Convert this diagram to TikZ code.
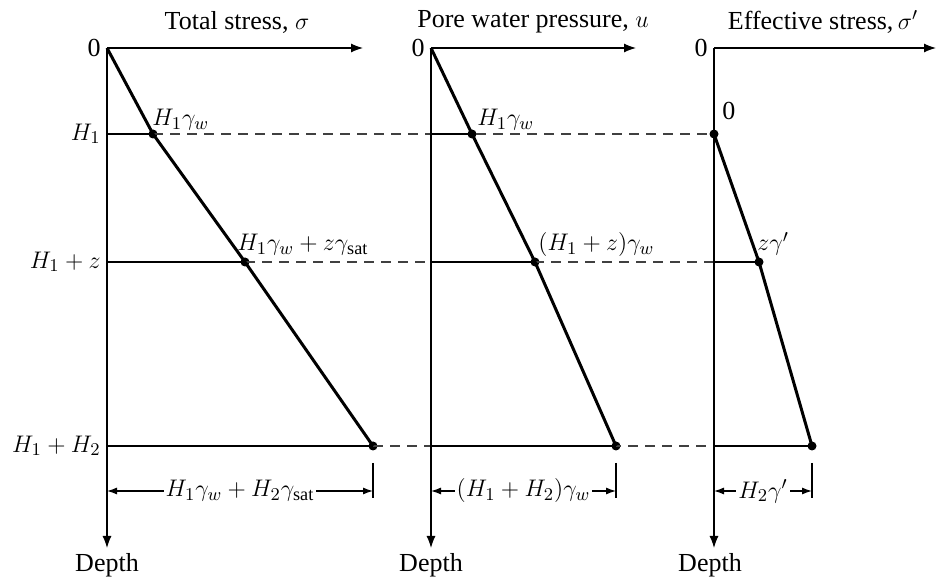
\documentclass[tikz,border=0pt]{standalone}
\usepackage{fontspec}
\setmainfont{Liberation Serif}
\usetikzlibrary{arrows.meta}
\begin{document}
\begin{tikzpicture}[x=0.5pt,y=-0.5pt,
  font=\fontsize{13}{15}\selectfont,
  axis/.style={line width=0.6pt,-{Latex[length=6pt,width=4.5pt]}},
  diag/.style={line width=1.5pt,line join=round},
  bar/.style={line width=1.3pt},
  dashline/.style={line width=0.6pt,black!75,dash pattern=on 5pt off 3.5pt},
  dot/.style={circle,fill=black,inner sep=0pt,minimum size=4.5pt},
  lab/.style={anchor=base west,inner sep=0pt},
  tick/.style={line width=0.6pt},
  dim/.style={line width=0.6pt,{Latex[length=5pt,width=3.5pt]}-{Latex[length=5pt,width=3.5pt]}},
  dimlab/.style={fill=white,inner sep=1pt}]
\useasboundingbox (0,0) rectangle (938,582);
% coordinates
\coordinate (A0) at (107,48); \coordinate (Ax) at (363,48); \coordinate (Ad) at (107,548);
\coordinate (B0) at (431,48); \coordinate (Bx) at (636,48); \coordinate (Bd) at (431,548);
\coordinate (C0) at (714,48); \coordinate (Cx) at (936,48); \coordinate (Cd) at (714,548);
\coordinate (A1a) at (107,134); \coordinate (A2a) at (107,262); \coordinate (A3a) at (107,446);
\coordinate (B1a) at (431,134); \coordinate (B2a) at (431,262); \coordinate (B3a) at (431,446);
\coordinate (C2a) at (714,262); \coordinate (C3a) at (714,446);
\node[dot] (A1) at (153,134) {}; \node[dot] (A2) at (245,262) {}; \node[dot] (A3) at (373,446) {};
\node[dot] (B1) at (472,134) {}; \node[dot] (B2) at (535,262) {}; \node[dot] (B3) at (616,446) {};
\node[dot] (C1) at (714,134) {}; \node[dot] (C2) at (759,262) {}; \node[dot] (C3) at (812,446) {};
% dashed level lines
\draw[dashline] (A1.center) -- (C1.center);
\draw[dashline] (A2.center) -- (C2a);
\draw[dashline] (A3.center) -- (C3a);
% axes
\draw[axis] (A0) -- (Ax); \draw[axis] (A0) -- (Ad);
\draw[axis] (B0) -- (Bx); \draw[axis] (B0) -- (Bd);
\draw[axis] (C0) -- (Cx); \draw[axis] (C0) -- (Cd);
% bars
\draw[bar] (A1a) -- (A1.center); \draw[bar] (A2a) -- (A2.center); \draw[bar] (A3a) -- (A3.center);
\draw[bar] (B1a) -- (B1.center); \draw[bar] (B2a) -- (B2.center); \draw[bar] (B3a) -- (B3.center);
\draw[bar] (C2a) -- (C2.center); \draw[bar] (C3a) -- (C3.center);
% diagonals
\draw[diag] (A0) -- (A1.center) -- (A2.center) -- (A3.center);
\draw[diag] (B0) -- (B1.center) -- (B2.center) -- (B3.center);
\draw[diag] (C1.center) -- (C2.center) -- (C3.center);
% titles
\node (t1) at (237,22) {Total stress, $\sigma$};
\node (t2) at (533,22) {Pore water pressure, $u$};
\node (t3) at (823,22) {Effective stress,\,$\sigma'$};
% zeros
\node[anchor=east,inner sep=3pt] (z1) at (A0) {0};
\node[anchor=east,inner sep=3pt] (z2) at (B0) {0};
\node[anchor=east,inner sep=3pt] (z3) at (C0) {0};
\node[lab] (z4) at (722,120) {0};
% depth labels
\node[anchor=east,inner sep=3pt] (h1) at (A1a) {$H_1$};
\node[anchor=east,inner sep=3pt] (h2) at (A2a) {$H_1 + z$};
\node[anchor=east,inner sep=3pt] (h3) at (A3a) {$H_1 + H_2$};
% point labels
\node[lab] (l1) at (152,126) {$H_1\gamma_w$};
\node[lab] (l2) at (237,251) {$H_1\gamma_w + z\gamma_\mathrm{sat}$};
\node[lab] (l3) at (477,126) {$H_1\gamma_w$};
\node[lab] (l4) at (538,251) {$(H_1 + z)\gamma_w$};
\node[lab] (l5) at (757,251) {$z\gamma'$};
% Depth
\node (d1) at (107,565) {Depth};
\node (d2) at (431,565) {Depth};
\node (d3) at (710,565) {Depth};
% dimension lines
\coordinate (T1a) at (373,463); \coordinate (T1b) at (373,498);
\coordinate (T2a) at (616,463); \coordinate (T2b) at (616,498);
\coordinate (T3a) at (812,463); \coordinate (T3b) at (812,498);
\draw[tick] (T1a) -- (T1b); \draw[tick] (T2a) -- (T2b); \draw[tick] (T3a) -- (T3b);
\coordinate (D1a) at (107,491); \coordinate (D1b) at (373,491);
\coordinate (D2a) at (431,491); \coordinate (D2b) at (616,491);
\coordinate (D3a) at (714,491); \coordinate (D3b) at (812,491);
\draw[dim] (D1a) -- node[dimlab] (m1) {$H_1\gamma_w + H_2\gamma_\mathrm{sat}$} (D1b);
\draw[dim] (D2a) -- node[dimlab] (m2) {$(H_1 + H_2)\gamma_w$} (D2b);
\draw[dim] (D3a) -- node[dimlab] (m3) {$H_2\gamma'$} (D3b);
\end{tikzpicture}
\end{document}
